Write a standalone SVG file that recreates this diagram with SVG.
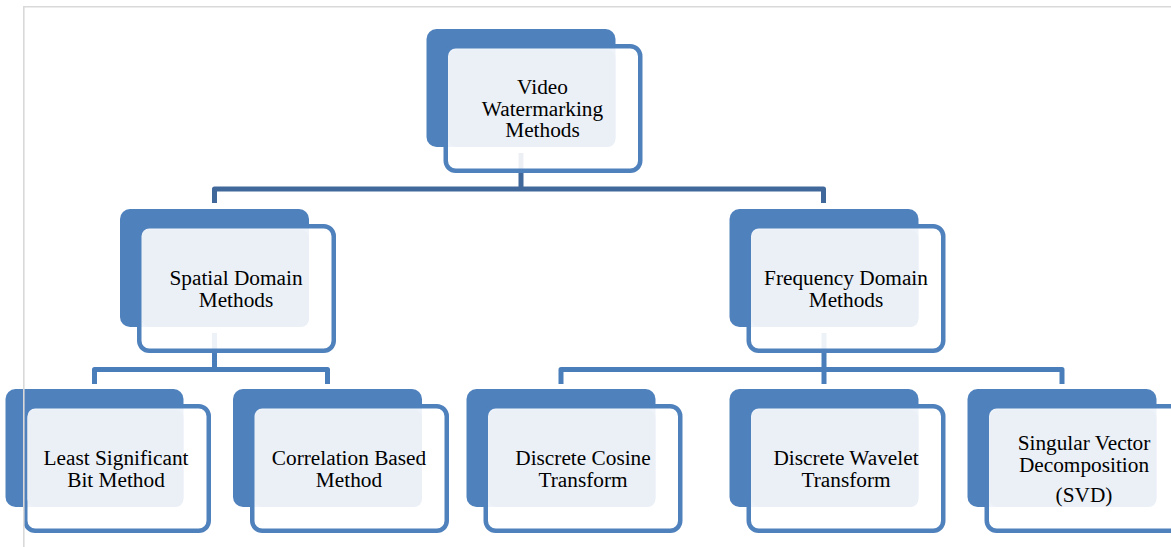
<svg xmlns="http://www.w3.org/2000/svg" width="1171" height="547" viewBox="0 0 1171 547">
<style>
.dark{fill:#4F81BD}
.box{fill:#fff;fill-opacity:0.9;stroke:#4F81BD;stroke-width:4.5}
.light{fill:#EBF0F7}
.t{font-family:"Liberation Serif","Times New Roman",serif;font-size:21.3px;fill:#000;text-anchor:middle}
.c1{fill:none;stroke:#41689A;stroke-width:5;stroke-linejoin:round}
.c2{fill:none;stroke:#4A7EBB;stroke-width:5;stroke-linejoin:round}
.frame{fill:none;stroke:#D9D9D9;stroke-width:1.6}
</style>
<rect width="1171" height="547" fill="#fff"/>
<g id="connectors">
<path class="c1" d="M521,153 V189 M214.5,203 V189 H823.5 V203"/>
<path class="c2" d="M214.5,333 V369.5 M94.5,384 V369.5 H327.5 V384"/>
<path class="c2" d="M824,333 V384 M561,384 V369.5 H1062 V384"/>
</g>
<g id="n-video">
<rect class="dark" x="426.5" y="29" width="189" height="118" rx="10"/>
<rect class="box" x="445.75" y="46.25" width="194.5" height="124.5" rx="10"/>
<rect class="light" x="448.5" y="50" width="167" height="97" rx="8"/>
<text class="t"><tspan x="542.5" y="94">Video</tspan><tspan x="542.5" y="115.5">Watermarking</tspan><tspan x="542.5" y="137">Methods</tspan></text>
</g>
<g id="n-spatial">
<rect class="dark" x="120" y="209" width="189" height="118" rx="10"/>
<rect class="box" x="139.25" y="226.25" width="194.5" height="124.5" rx="10"/>
<rect class="light" x="142" y="230" width="167" height="97" rx="8"/>
<text class="t"><tspan x="236" y="285">Spatial Domain</tspan><tspan x="236" y="306.5">Methods</tspan></text>
</g>
<g id="n-frequency">
<rect class="dark" x="729.5" y="209" width="189" height="118" rx="10"/>
<rect class="box" x="748.75" y="226.25" width="194.5" height="124.5" rx="10"/>
<rect class="light" x="751.5" y="230" width="167" height="97" rx="8"/>
<text class="t"><tspan x="846" y="285">Frequency Domain</tspan><tspan x="846" y="306.5">Methods</tspan></text>
</g>
<g id="n-lsb">
<rect class="dark" x="5.5" y="389" width="178" height="118" rx="10"/>
<rect class="box" x="25.25" y="406.25" width="183.5" height="124.5" rx="10"/>
<rect class="light" x="27.5" y="410" width="156" height="97" rx="8"/>
<text class="t"><tspan x="116" y="465">Least Significant</tspan><tspan x="116" y="486.5">Bit Method</tspan></text>
</g>
<g id="n-correlation">
<rect class="dark" x="233" y="389" width="189" height="118" rx="10"/>
<rect class="box" x="252.25" y="406.25" width="194.5" height="124.5" rx="10"/>
<rect class="light" x="255" y="410" width="167" height="97" rx="8"/>
<text class="t"><tspan x="349" y="465">Correlation Based</tspan><tspan x="349" y="486.5">Method</tspan></text>
</g>
<g id="n-dct">
<rect class="dark" x="466.5" y="389" width="189" height="118" rx="10"/>
<rect class="box" x="485.75" y="406.25" width="194.5" height="124.5" rx="10"/>
<rect class="light" x="488.5" y="410" width="167" height="97" rx="8"/>
<text class="t"><tspan x="583" y="465">Discrete Cosine</tspan><tspan x="583" y="486.5">Transform</tspan></text>
</g>
<g id="n-dwt">
<rect class="dark" x="729.5" y="389" width="189" height="118" rx="10"/>
<rect class="box" x="748.75" y="406.25" width="194.5" height="124.5" rx="10"/>
<rect class="light" x="751.5" y="410" width="167" height="97" rx="8"/>
<text class="t"><tspan x="846" y="465">Discrete Wavelet</tspan><tspan x="846" y="486.5">Transform</tspan></text>
</g>
<g id="n-svd">
<rect class="dark" x="967.5" y="389" width="189" height="118" rx="10"/>
<rect class="box" x="986.75" y="406.25" width="194.5" height="124.5" rx="10"/>
<rect class="light" x="989.5" y="410" width="167" height="97" rx="8"/>
<text class="t"><tspan x="1084" y="450">Singular Vector</tspan><tspan x="1084" y="471.7">Decomposition</tspan><tspan x="1084" y="501.7">(SVD)</tspan></text>
</g>
<path class="frame" d="M23.8,547 V6.8 H1171"/>
</svg>
